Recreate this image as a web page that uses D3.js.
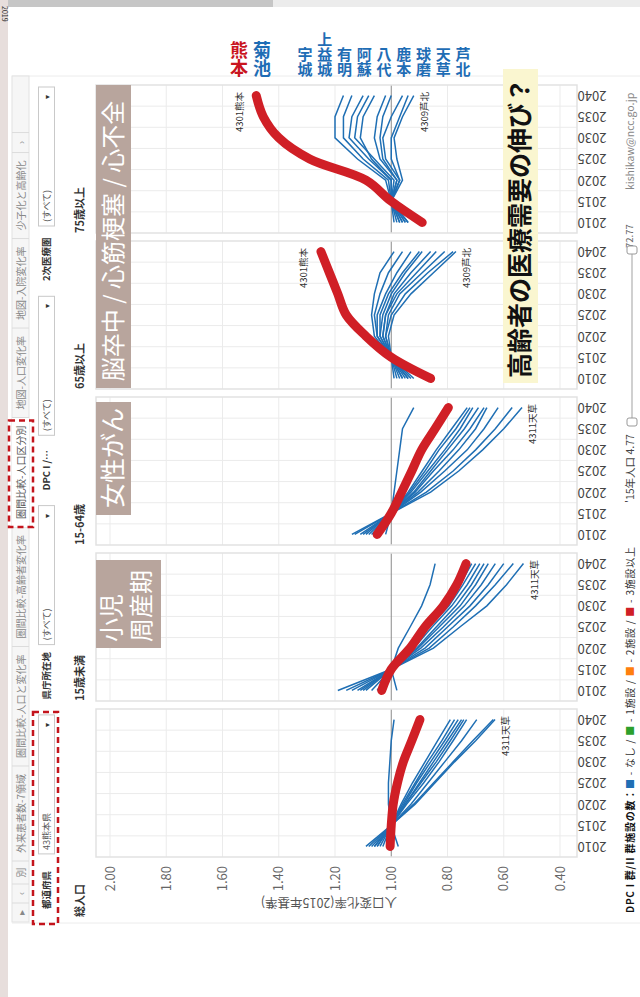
<!DOCTYPE html>
<html lang="ja">
<head>
  <meta charset="utf-8">
  <title>圏間比較-人口区分別</title>
  <script src="https://d3js.org/d3.v7.min.js"></script>
  <style>
    body { margin: 0; background: #fff; }
    #chart text { font-family: "Noto Sans CJK JP", "Noto Sans", sans-serif; }
  </style>
</head>
<body>
  <div id="chart"></div>

  <script type="text/javascript">
    "use strict"

    // anos (faixas do eixo vertical)
    var years = [2010, 2015, 2020, 2025, 2030, 2035, 2040];
    // grupos etarios, de cima para baixo
    var groups = ["75歳以上", "65歳以上", "15-64歳", "15歳未満", "総人口"];
    var regions = ["4301熊本", "4302宇城", "4303有明", "4304鹿本", "4305菊池", "4306阿蘇",
                   "4307上益城", "4308八代", "4309芦北", "4310球磨", "4311天草"];
    var tickValues = [2.0, 1.8, 1.6, 1.4, 1.2, 1.0, 0.8, 0.6, 0.4];

    // 人口変化率 (2015 = 1.00), mesma ordem de regions
    var rate75 = [
      [0.89, 1.00, 1.09, 1.29, 1.40, 1.455, 1.48],
      [0.98, 1.00, 1.01, 1.10, 1.17, 1.17, 1.14],
      [0.96, 1.00, 0.99, 1.06, 1.13, 1.12, 1.08],
      [0.95, 1.00, 0.98, 1.03, 1.04, 1.03, 1.00],
      [0.99, 1.00, 1.02, 1.12, 1.20, 1.20, 1.17],
      [0.97, 1.00, 1.00, 1.07, 1.11, 1.10, 1.06],
      [0.97, 1.00, 1.00, 1.08, 1.15, 1.14, 1.10],
      [0.96, 1.00, 0.98, 1.04, 1.06, 1.05, 1.02],
      [0.94, 1.00, 0.96, 0.98, 0.99, 0.96, 0.92],
      [0.95, 1.00, 0.97, 1.02, 1.03, 1.00, 0.96],
      [0.94, 1.00, 0.97, 1.00, 1.00, 0.97, 0.94]
    ];
    var rate65 = [
      [0.86, 1.00, 1.09, 1.16, 1.19, 1.22, 1.25],
      [0.98, 1.00, 1.05, 1.06, 1.04, 1.01, 0.96],
      [0.96, 1.00, 1.04, 1.04, 1.01, 0.96, 0.90],
      [0.94, 1.00, 1.03, 1.02, 0.98, 0.91, 0.84],
      [0.99, 1.00, 1.06, 1.07, 1.06, 1.04, 0.99],
      [0.96, 1.00, 1.04, 1.03, 1.00, 0.95, 0.89],
      [0.97, 1.00, 1.05, 1.05, 1.02, 0.98, 0.93],
      [0.95, 1.00, 1.03, 1.02, 0.99, 0.93, 0.86],
      [0.92, 1.00, 1.01, 0.99, 0.93, 0.85, 0.77],
      [0.94, 1.00, 1.02, 1.01, 0.97, 0.89, 0.81],
      [0.93, 1.00, 1.02, 1.00, 0.95, 0.87, 0.78]
    ];
    var rate1564 = [
      [1.05, 1.00, 0.963, 0.927, 0.892, 0.844, 0.797],
      [1.05, 1.00, 0.94, 0.89, 0.84, 0.785, 0.73],
      [1.07, 1.00, 0.93, 0.87, 0.81, 0.755, 0.71],
      [1.08, 1.00, 0.92, 0.86, 0.80, 0.74, 0.69],
      [1.02, 1.00, 0.99, 0.98, 0.97, 0.96, 0.92],
      [1.10, 1.00, 0.905, 0.83, 0.76, 0.70, 0.66],
      [1.06, 1.00, 0.935, 0.88, 0.83, 0.77, 0.72],
      [1.09, 1.00, 0.915, 0.85, 0.78, 0.72, 0.67],
      [1.13, 1.00, 0.875, 0.78, 0.70, 0.63, 0.57],
      [1.11, 1.00, 0.895, 0.81, 0.73, 0.67, 0.62],
      [1.14, 1.00, 0.86, 0.76, 0.675, 0.60, 0.535]
    ];
    var rate0014 = [
      [1.034, 1.00, 0.933, 0.88, 0.815, 0.767, 0.734],
      [1.05, 1.00, 0.935, 0.875, 0.805, 0.755, 0.714],
      [1.09, 1.00, 0.92, 0.855, 0.785, 0.73, 0.685],
      [1.10, 1.00, 0.91, 0.84, 0.77, 0.715, 0.67],
      [0.98, 1.00, 0.975, 0.933, 0.892, 0.862, 0.844],
      [1.12, 1.00, 0.895, 0.815, 0.74, 0.68, 0.63],
      [1.07, 1.00, 0.93, 0.865, 0.795, 0.745, 0.70],
      [1.11, 1.00, 0.905, 0.83, 0.755, 0.70, 0.655],
      [1.16, 1.00, 0.865, 0.78, 0.70, 0.63, 0.566],
      [1.14, 1.00, 0.88, 0.80, 0.72, 0.655, 0.60],
      [1.19, 1.00, 0.85, 0.756, 0.66, 0.59, 0.53]
    ];
    var rateTotal = [
      [1.004, 1.00, 0.993, 0.978, 0.957, 0.927, 0.898],
      [1.03, 1.00, 0.965, 0.925, 0.88, 0.835, 0.79],
      [1.05, 1.00, 0.955, 0.91, 0.86, 0.81, 0.762],
      [1.05, 1.00, 0.95, 0.90, 0.85, 0.80, 0.75],
      [0.975, 1.00, 1.01, 1.01, 1.005, 1.00, 0.99],
      [1.06, 1.00, 0.95, 0.895, 0.84, 0.79, 0.742],
      [1.04, 1.00, 0.96, 0.915, 0.87, 0.82, 0.775],
      [1.06, 1.00, 0.945, 0.885, 0.83, 0.78, 0.732],
      [1.08, 1.00, 0.92, 0.85, 0.78, 0.71, 0.637],
      [1.07, 1.00, 0.93, 0.87, 0.81, 0.75, 0.696],
      [1.09, 1.00, 0.915, 0.845, 0.775, 0.70, 0.631]
    ];
    var rates = [rate75, rate65, rate1564, rate0014, rateTotal];
    // rotulos no fim das linhas: [indice da regiao, lado]
    var endLabels = [[[0, -1], [8, 1]], [[0, -1], [8, 1]], [[10, 1]], [[10, 1]], [[10, 1]]];

    var calloutNames = ["熊本", "菊池", "宇城", "上益城", "有明", "阿蘇", "八代", "鹿本", "球磨", "天草", "芦北"];
    var tabs = ["▸", "‹", "別", "外来患者数-7領域", "圏間比較-人口と変化率", "圏間比較-高齢者変化率",
                "圏間比較-人口区分別", "地図-人口変化率", "地図-入院変化率", "少子化と高齢化", "›"];
    var filterLabels = ["2次医療圏", "DPC I /…", "県庁所在地", "都道府県"];
    var filterValues = ["(すべて)", "(すべて)", "(すべて)", "43熊本県"];
    var legendItems = ["なし", "1施設", "2施設", "3施設以上"];
    var legendColors = ["#1f6fb4", "#2ca02c", "#ff7f0e", "#d01f26"];

    var BLUE = "#1f6fb4", RED = "#d01f26";

    var svg = d3.select('#chart').append('svg')
      .attr('width', 640).attr('height', 997)
      .style('display', 'block');

    // texto girado (-90 = de baixo para cima)
    function vtext(parent, x, y, str, size, anchor, rot) {
      return parent.append('text')
        .attr('transform', 'translate(' + x + ',' + y + ') rotate(' + (rot === undefined ? -90 : rot) + ')')
        .attr('dy', '0.35em')
        .attr('text-anchor', anchor || 'start')
        .style('font-size', size + 'px')
        .text(str);
    }

    // moldura da tela
    svg.append('rect').attr('width', 640).attr('height', 997).attr('fill', '#fff');
    svg.append('rect').attr('x', 0).attr('width', 8).attr('height', 997).attr('fill', '#e7dedc');
    svg.append('rect').attr('x', 8).attr('width', 632).attr('height', 7).attr('fill', '#ececec');
    svg.append('rect').attr('x', 8).attr('width', 265).attr('height', 7).attr('fill', '#c6c6c6');
    vtext(svg, 4, 6, '2019', 7, 'start', 90).attr('fill', '#333');
    svg.append('line').attr('x1', 12).attr('x2', 640).attr('y1', 76).attr('y2', 76).attr('stroke', '#ececec');
    svg.append('line').attr('x1', 12).attr('x2', 640).attr('y1', 923).attr('y2', 923).attr('stroke', '#ececec');

    /*
     * abas (coluna da esquerda)
     */
    var tabG = svg.append('g');
    tabG.append('rect').attr('x', 12).attr('y', 76).attr('width', 17).attr('height', 846)
      .attr('fill', '#f6f6f6').attr('stroke', '#e2e2e2');
    var ty = 922;
    tabs.forEach(function(t, i) {
      var txt = vtext(tabG, 21, 0, t, 10, 'middle').attr('fill', i === 6 ? '#555' : '#888');
      var len = t.length > 2 ? txt.node().getComputedTextLength() + 16 : (i === 10 ? 20 : 19);
      if (i === 2) len = 23;
      txt.attr('transform', 'translate(21,' + (ty - len / 2) + ') rotate(-90)');
      if (i === 6) {
        tabG.append('rect').attr('x', 12).attr('y', ty - len).attr('width', 17).attr('height', len).attr('fill', '#fff');
        txt.raise();
        tabG.append('rect').attr('x', 9).attr('y', ty - len + 3).attr('width', 24).attr('height', len - 3)
          .attr('fill', 'none').attr('stroke', '#c4141c').attr('stroke-width', 2.5).attr('stroke-dasharray', '6,4');
      }
      ty -= len;
      tabG.append('line').attr('x1', 12).attr('x2', 29).attr('y1', ty).attr('y2', ty).attr('stroke', '#dcdcdc');
    });

    /*
     * filtros
     */
    var filG = svg.append('g');
    filterLabels.forEach(function(lab, i) {
      var top = 87 + i * 209.3;
      filG.append('rect').attr('x', 38.5).attr('y', top).attr('width', 16).attr('height', 139)
        .attr('fill', '#fff').attr('stroke', '#c9c9c9');
      vtext(filG, 47, top + 10, '▾', 8, 'middle').attr('fill', '#333');
      vtext(filG, 46.5, top + 135, filterValues[i], 9, 'start').attr('fill', '#555');
      vtext(filG, 47, top + 194, lab, 9.5, 'start').attr('fill', '#333').style('font-weight', 'bold');
    });
    filG.append('rect').attr('x', 33).attr('y', 712).attr('width', 25).attr('height', 212)
      .attr('fill', 'none').attr('stroke', '#c4141c').attr('stroke-width', 2.5).attr('stroke-dasharray', '6,4');

    /*
     * paineis
     */
    var x = d3.scaleLinear().domain([2.0, 0.4]).range([110, 560]);
    var panel = d3.scaleBand().domain(groups).range([85, 857]).paddingInner(0.0513);

    groups.forEach(function(grp, i) {
      var top = panel(grp), h = panel.bandwidth();
      var y = d3.scaleBand().domain(years.slice().reverse()).range([top, top + h]);
      var cy = function(yr) { return y(yr) + y.bandwidth() / 2; };
      var g = svg.append('g');

      g.selectAll('line.h').data(d3.range(1, years.length)).enter().append('line')
        .attr('x1', 96).attr('x2', 577)
        .attr('y1', k => top + k * y.step()).attr('y2', k => top + k * y.step())
        .attr('stroke', '#ebebeb');
      g.selectAll('line.v').data(tickValues).enter().append('line')
        .attr('x1', d => x(d)).attr('x2', d => x(d))
        .attr('y1', top).attr('y2', top + h)
        .attr('stroke', d => d === 1.0 ? '#8a8a8a' : '#ebebeb');
      g.append('rect').attr('x', 96).attr('y', top).attr('width', 481).attr('height', h)
        .attr('fill', 'none').attr('stroke', '#e2e2e2').attr('stroke-width', 1.5);

      // linhas por regiao
      var line = d3.line().x(v => x(v)).y((v, k) => cy(years[k]));
      g.selectAll('path.serie').data(rates[i]).enter().append('path')
        .attr('d', line).attr('fill', 'none').attr('stroke', BLUE).attr('stroke-width', 1.5);
      // destaque (marcador vermelho, tracado suave)
      g.append('path').attr('d', line.curve(d3.curveCatmullRom.alpha(0.5))(rates[i][0]))
        .attr('fill', 'none').attr('stroke', RED).attr('stroke-width', 9)
        .attr('stroke-linecap', 'round').attr('stroke-linejoin', 'round');

      endLabels[i].forEach(function(l) {
        var v = rates[i][l[0]][years.length - 1];
        vtext(g, x(v) + (l[1] < 0 ? -17 : 11), top + 47, regions[l[0]], 9.5, 'start').attr('fill', '#333');
      });

      // anos (de cabeca para baixo)
      years.forEach(function(yr) {
        vtext(g, 592, cy(yr), yr, 13, 'middle', 180).attr('fill', '#444');
      });

      // cabecalho
      vtext(g, 80, i === groups.length - 1 ? 917 : top + h, grp, 11, 'start')
        .attr('fill', '#333').style('font-weight', 'bold');
    });

    // eixo de valores
    var axG = svg.append('g');
    tickValues.forEach(function(d) {
      vtext(axG, x(d), 866, d3.format('.2f')(d), 13, 'end').attr('fill', '#666');
    });
    vtext(axG, 329, 902, '人口変化率(2015年基準)', 12.5, 'middle', 180).attr('fill', '#555');

    /*
     * anotacoes
     */
    var an = svg.append('g');
    var brown = '#b8a59d';
    an.append('rect').attr('x', 96).attr('y', 85).attr('width', 35).attr('height', 303).attr('fill', brown);
    an.append('rect').attr('x', 96).attr('y', 402).attr('width', 35).attr('height', 113).attr('fill', brown);
    an.append('rect').attr('x', 96).attr('y', 560).attr('width', 65).attr('height', 88).attr('fill', brown);
    an.append('rect').attr('x', 503).attr('y', 69).attr('width', 35).attr('height', 314).attr('fill', '#faf6d0');
    vtext(an, 113.5, 241, '脳卒中 / 心筋梗塞 / 心不全', 24, 'middle').attr('fill', '#fff');
    vtext(an, 113.5, 458, '女性がん', 25, 'middle').attr('fill', '#fff');
    vtext(an, 112, 642, '小児', 24, 'start').attr('fill', '#fff');
    vtext(an, 142, 642, '周産期', 24, 'start').attr('fill', '#fff');
    vtext(an, 520.5, 228, '高齢者の医療需要の伸び？', 25, 'middle').attr('fill', '#111').style('font-weight', 'bold');

    // nomes escritos na vertical (um texto por nome)
    calloutNames.forEach(function(nm, i) {
      var fs = i < 2 ? 18 : 15;
      var cx = i < 2 ? 239 + i * 23 : 305 + (i - 2) * 19.75;
      an.append('text')
        .attr('x', cx).attr('y', 77)
        .attr('text-anchor', 'end')
        .style('writing-mode', 'vertical-rl')
        .style('font-size', fs + 'px').style('font-weight', 'bold')
        .attr('fill', i === 0 ? '#c9151e' : '#1f6db5')
        .text(nm);
    });

    /*
     * coluna da direita: email, controle deslizante, legenda
     */
    var rg = svg.append('g');
    vtext(rg, 630, 190, 'kishikaw@ncc.go.jp', 10.5, 'start').attr('fill', '#888');
    vtext(rg, 630, 248, '72.77', 9.5, 'start').attr('fill', '#666');
    rg.append('line').attr('x1', 632).attr('x2', 632).attr('y1', 253).attr('y2', 422)
      .attr('stroke', '#d0d0d0').attr('stroke-width', 2);
    [250, 422].forEach(function(hy) {
      rg.append('rect').attr('x', 627).attr('y', hy - 4).attr('width', 10).attr('height', 8).attr('rx', 2)
        .attr('fill', '#fff').attr('stroke', '#999');
    });
    vtext(rg, 630, 503, "'15年人口 4.77", 10.5, 'start').attr('fill', '#444');

    var lg = vtext(rg, 630, 913, '', 10, 'start').attr('fill', '#333')
      .attr('textLength', 366).attr('lengthAdjust', 'spacing');
    lg.append('tspan').style('font-weight', 'bold').attr('fill', '#111').text('DPC I 群/II 群施設の数：');
    legendItems.forEach(function(it, i) {
      lg.append('tspan').attr('fill', legendColors[i]).text('■');
      lg.append('tspan').text(' - ' + it + (i < legendItems.length - 1 ? ' / ' : ''));
    });
  </script>
</body>
</html>
